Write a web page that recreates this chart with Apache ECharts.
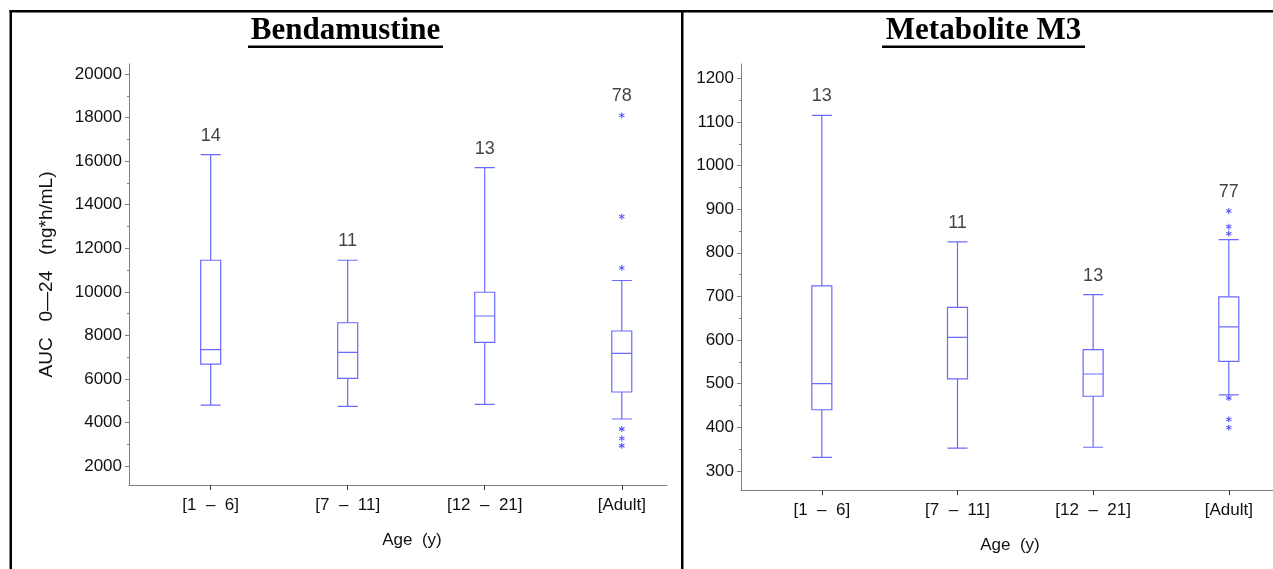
<!DOCTYPE html>
<html>
<head>
<meta charset="utf-8">
<script src="https://cdn.jsdelivr.net/npm/echarts@6/dist/echarts.min.js"></script>
<style>
html,body{margin:0;padding:0;background:#fff;}
#chart{width:1273px;height:569px;}
</style>
</head>
<body>
<div id="chart"></div>
<script>
// ---- data ----
const categories = ['[1  \u2013  6]', '[7  \u2013  11]', '[12  \u2013  21]', '[Adult]'];
const categoryPos = [1, 2, 3, 4];

// Bendamustine AUC0-24: [min whisker, Q1, median, Q3, max whisker]
const bendaBoxes = [
  [4800, 6680, 7350, 11450, 16300],
  [4740, 6030, 7220, 8580, 11450],
  [4830, 7680, 8890, 9980, 15700],
  [4160, 5400, 7175, 8200, 10520]
];
const bendaOutlierCat = [4, 4, 4, 4, 4, 4];
const bendaOutlierVal = [18100, 13450, 11100, 3700, 3270, 2930];
const bendaN = [14, 11, 13, 78];
const bendaTicks = [2000, 4000, 6000, 8000, 10000, 12000, 14000, 16000, 18000, 20000];
const bendaMinorTicks = [3000, 5000, 7000, 9000, 11000, 13000, 15000, 17000, 19000];

// Metabolite M3
const m3Boxes = [
  [331, 440, 500, 724, 1115],
  [352, 511, 606, 675, 825],
  [354, 471, 522, 578, 704],
  [474, 551, 630, 699, 830]
];
const m3OutlierCat = [4, 4, 4, 4, 4, 4];
const m3OutlierVal = [896, 860, 844, 467, 418, 399];
const m3N = [13, 11, 13, 77];
const m3Ticks = [300, 400, 500, 600, 700, 800, 900, 1000, 1100, 1200];
const m3MinorTicks = [350, 450, 550, 650, 750, 850, 950, 1050, 1150];

const yTitle = 'AUC   0\u201424   (ng*h/mL)';
const xTitle = 'Age  (y)';
const panelTitles = ['Bendamustine', 'Metabolite M3'];

// ---- styles ----
const boxColor = '#6a6aff';
const outColor = '#2a2aff';
const axisColor = '#7f7f7f';
const textColor = '#111';
const font = 'Liberation Sans, Arial, sans-serif';
const titleFont = 'bold 31px "Liberation Serif", "Times New Roman", serif';

const star = 'path://M-0.5,-3L0.5,-3L0.5,3L-0.5,3Z' +
  'M2.848,1.067L2.348,1.933L-2.848,-1.067L-2.348,-1.933Z' +
  'M2.348,-1.933L2.848,-1.067L-2.348,1.933L-2.848,1.067Z';

function boxData(boxes) { return boxes.map((b, i) => [categoryPos[i]].concat(b)); }
function outData(cats, vals) { return cats.map((c, i) => [c, vals[i]]); }
function labelData(boxes, cats, vals, ns) {
  return boxes.map((b, i) => {
    let top = b[4];
    cats.forEach((c, j) => { if (c === categoryPos[i] && vals[j] > top) top = vals[j]; });
    return [categoryPos[i], top, ns[i]];
  });
}

const chart = echarts.init(document.getElementById('chart'), null, {renderer: 'canvas'});

function xAxisDef(gridIndex, max, namePadLeft) {
  return {
    type: 'value', gridIndex: gridIndex, min: 0.404, max: max,
    name: xTitle, nameLocation: 'middle', nameGap: 47,
    nameTextStyle: {fontFamily: font, fontSize: 17, color: textColor, padding: [0, 0, 0, namePadLeft]},
    axisLine: {show: true, lineStyle: {color: axisColor, width: 1}},
    axisTick: {show: true, customValues: categoryPos, length: 5, lineStyle: {color: '#333'}},
    axisLabel: {customValues: categoryPos, margin: 12, fontFamily: font, fontSize: 17, color: textColor,
      formatter: v => categories[Math.round(v) - 1] || ''},
    splitLine: {show: false}
  };
}
function yAxisDef(gridIndex, min, max, ticks, name) {
  return {
    type: 'value', gridIndex: gridIndex, min: min, max: max,
    name: name || '', nameLocation: 'middle', nameGap: 73, nameRotate: 90,
    nameTextStyle: {fontFamily: font, fontSize: 19, color: textColor},
    axisLine: {show: true, lineStyle: {color: axisColor, width: 1}},
    axisTick: {show: true, customValues: ticks, length: 4, lineStyle: {color: axisColor}},
    axisLabel: {customValues: ticks, margin: 7, fontFamily: font, fontSize: 17, color: textColor,
      formatter: v => String(v)},
    splitLine: {show: false}
  };
}
function yMinorDef(gridIndex, min, max, ticks) {
  return {
    type: 'value', gridIndex: gridIndex, min: min, max: max, position: 'left',
    axisLine: {show: false},
    axisTick: {show: true, customValues: ticks, length: 2, lineStyle: {color: axisColor}},
    axisLabel: {show: false},
    splitLine: {show: false}
  };
}

function seriesFor(idx, boxes, cats, vals, ns) {
  return [
    {
      type: 'boxplot', xAxisIndex: idx, yAxisIndex: idx * 2,
      data: boxData(boxes), boxWidth: [20, 20], silent: true,
      itemStyle: {color: 'rgba(255,255,255,0)', borderColor: boxColor, borderWidth: 1.2},
      emphasis: {disabled: true}
    },
    {
      type: 'scatter', xAxisIndex: idx, yAxisIndex: idx * 2,
      data: outData(cats, vals), symbol: star, symbolSize: 6, silent: true,
      itemStyle: {color: outColor}
    },
    {
      type: 'scatter', xAxisIndex: idx, yAxisIndex: idx * 2,
      data: labelData(boxes, cats, vals, ns), symbolSize: 0, silent: true,
      label: {show: true, position: 'top', distance: 10, fontFamily: font, fontSize: 18, color: textColor,
        formatter: p => String(p.value[2])}
    }
  ];
}

const option = {
  backgroundColor: '#fff',
  animation: false,
  grid: [
    {left: 129, top: 64, width: 538, height: 421, containLabel: false},
    {left: 741, top: 64, width: 537, height: 426, containLabel: false}
  ],
  xAxis: [xAxisDef(0, 4.33, 28), xAxisDef(1, 4.326, 6)],
  yAxis: [
    yAxisDef(0, 1130, 20460, bendaTicks, yTitle),
    yMinorDef(0, 1130, 20460, bendaMinorTicks),
    yAxisDef(1, 256, 1233, m3Ticks, ''),
    yMinorDef(1, 256, 1233, m3MinorTicks)
  ],
  series: [].concat(
    seriesFor(0, bendaBoxes, bendaOutlierCat, bendaOutlierVal, bendaN),
    seriesFor(1, m3Boxes, m3OutlierCat, m3OutlierVal, m3N)
  ),
  graphic: [
    // frame
    {type: 'rect', shape: {x: 9.5, y: 10, width: 2.5, height: 560}, style: {fill: '#000'}, silent: true},
    {type: 'rect', shape: {x: 9.5, y: 10, width: 1264, height: 2.5}, style: {fill: '#000'}, silent: true},
    {type: 'rect', shape: {x: 681, y: 10, width: 2.5, height: 560}, style: {fill: '#000'}, silent: true},
    // titles
    {type: 'text', x: 345.5, y: 31, style: {text: panelTitles[0], font: titleFont, fill: '#000', align: 'center', verticalAlign: 'middle'}, silent: true},
    {type: 'rect', shape: {x: 248, y: 45.5, width: 195, height: 2.5}, style: {fill: '#000'}, silent: true},
    {type: 'text', x: 983.5, y: 31, style: {text: panelTitles[1], font: titleFont, fill: '#000', align: 'center', verticalAlign: 'middle'}, silent: true},
    {type: 'rect', shape: {x: 882, y: 45.5, width: 203, height: 2.5}, style: {fill: '#000'}, silent: true}
  ]
};
chart.setOption(option);
</script>
</body>
</html>
